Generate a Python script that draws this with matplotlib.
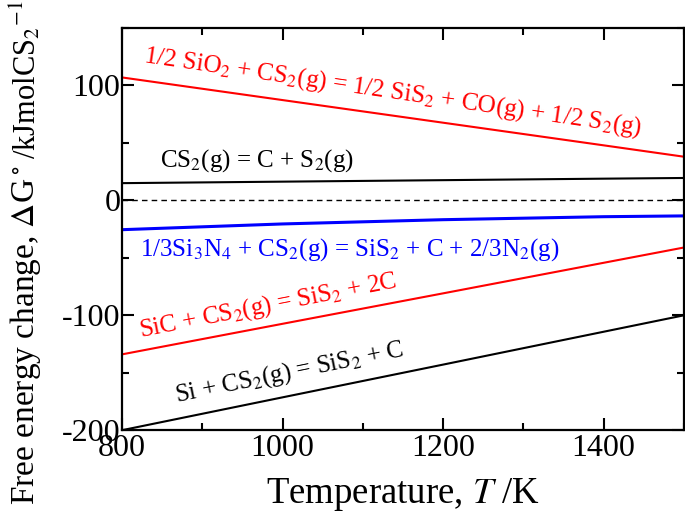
import numpy as np
import matplotlib
matplotlib.use("Agg")
import matplotlib.pyplot as plt

plt.rcParams['font.family'] = ['Liberation Serif', 'DejaVu Serif']
plt.rcParams['mathtext.fontset'] = 'stix'
plt.rcParams['axes.unicode_minus'] = False

# temperature points (K)
T = [800, 1000, 1200, 1400, 1500]

# free energy change values (kJ/mol CS2)
sio2 = [107, 87.3, 67.6, 47.9, 38]
cs2 = [15, 16.3, 17.6, 18.9, 19.5]
si3n4 = [-25.5, -20.5, -16.8, -14.2, -13.5]
sic = [-134, -107.4, -80.9, -54.3, -41]
si = [-200, -171.4, -142.9, -114.3, -100]

fig = plt.figure(figsize=(6.85, 5.14), dpi=100)
ax = fig.add_axes([0.178, 0.163, 0.8205, 0.7825])

ax.plot(T, sio2, color='red', lw=1.5)
ax.plot(T, cs2, color='black', lw=1.5)
ax.plot(T, si3n4, color='blue', lw=2.2)
ax.plot(T, sic, color='red', lw=1.5)
ax.plot(T, si, color='black', lw=1.5)
ax.axhline(0, color='black', lw=1, ls=(0, (4, 3)))

fs = 18
ax.text(1137, 94, r"1/2 SiO$_2$ + CS$_2$(g) = 1/2 SiS$_2$ + CO(g) + 1/2 S$_2$(g)",
        color='red', fontsize=fs, rotation=-8.3, ha='center', va='center',
        rotation_mode='anchor')
ax.text(847, 35, r"CS$_2$(g) = C + S$_2$(g)", color='black', fontsize=fs,
        ha='left', va='center')
ax.text(823, -43, r"1/3Si$_3$N$_4$ + CS$_2$(g) = SiS$_2$ + C + 2/3N$_2$(g)",
        color='blue', fontsize=fs, ha='left', va='center')
ax.text(982, -92, r"SiC + CS$_2$(g) = SiS$_2$ + 2C", color='red', fontsize=fs,
        rotation=11, ha='center', va='center', rotation_mode='anchor')
ax.text(1008, -150, r"Si + CS$_2$(g) = SiS$_2$ + C", color='black', fontsize=fs,
        rotation=11.5, ha='center', va='center', rotation_mode='anchor')

ax.set_xlim(800, 1500)
ax.set_ylim(-200, 150)
ax.set_xticks([800, 1000, 1200, 1400])
ax.set_xticks([900, 1100, 1300, 1500], minor=True)
ax.set_yticks([-200, -100, 0, 100])
ax.set_yticks([-150, -50, 50, 150], minor=True)
ax.tick_params(which='both', direction='in', top=True, right=True, width=1.5,
               labelsize=23)
ax.tick_params(which='major', length=8.5)
ax.tick_params(which='minor', length=5)
ax.tick_params(axis='x', pad=3)
ax.tick_params(axis='y', pad=1)
for s in ax.spines.values():
    s.set_linewidth(1.6)

ax.set_xlabel(r"Temperature, $T$ /K", fontsize=26.5, labelpad=9)
# y label drawn in two pieces so the unit part fits like in the original
fig.text(0.037, 0.018, r"Free energy change, $\Delta$G$^\circ$",
         fontsize=24, rotation=90, ha='center', va='bottom')
fig.text(0.037, 0.999, r"/kJmolCS$_2$$^{-1}$",
         fontsize=22, rotation=90, ha='center', va='top')

fig.savefig("out.png", dpi=100)
